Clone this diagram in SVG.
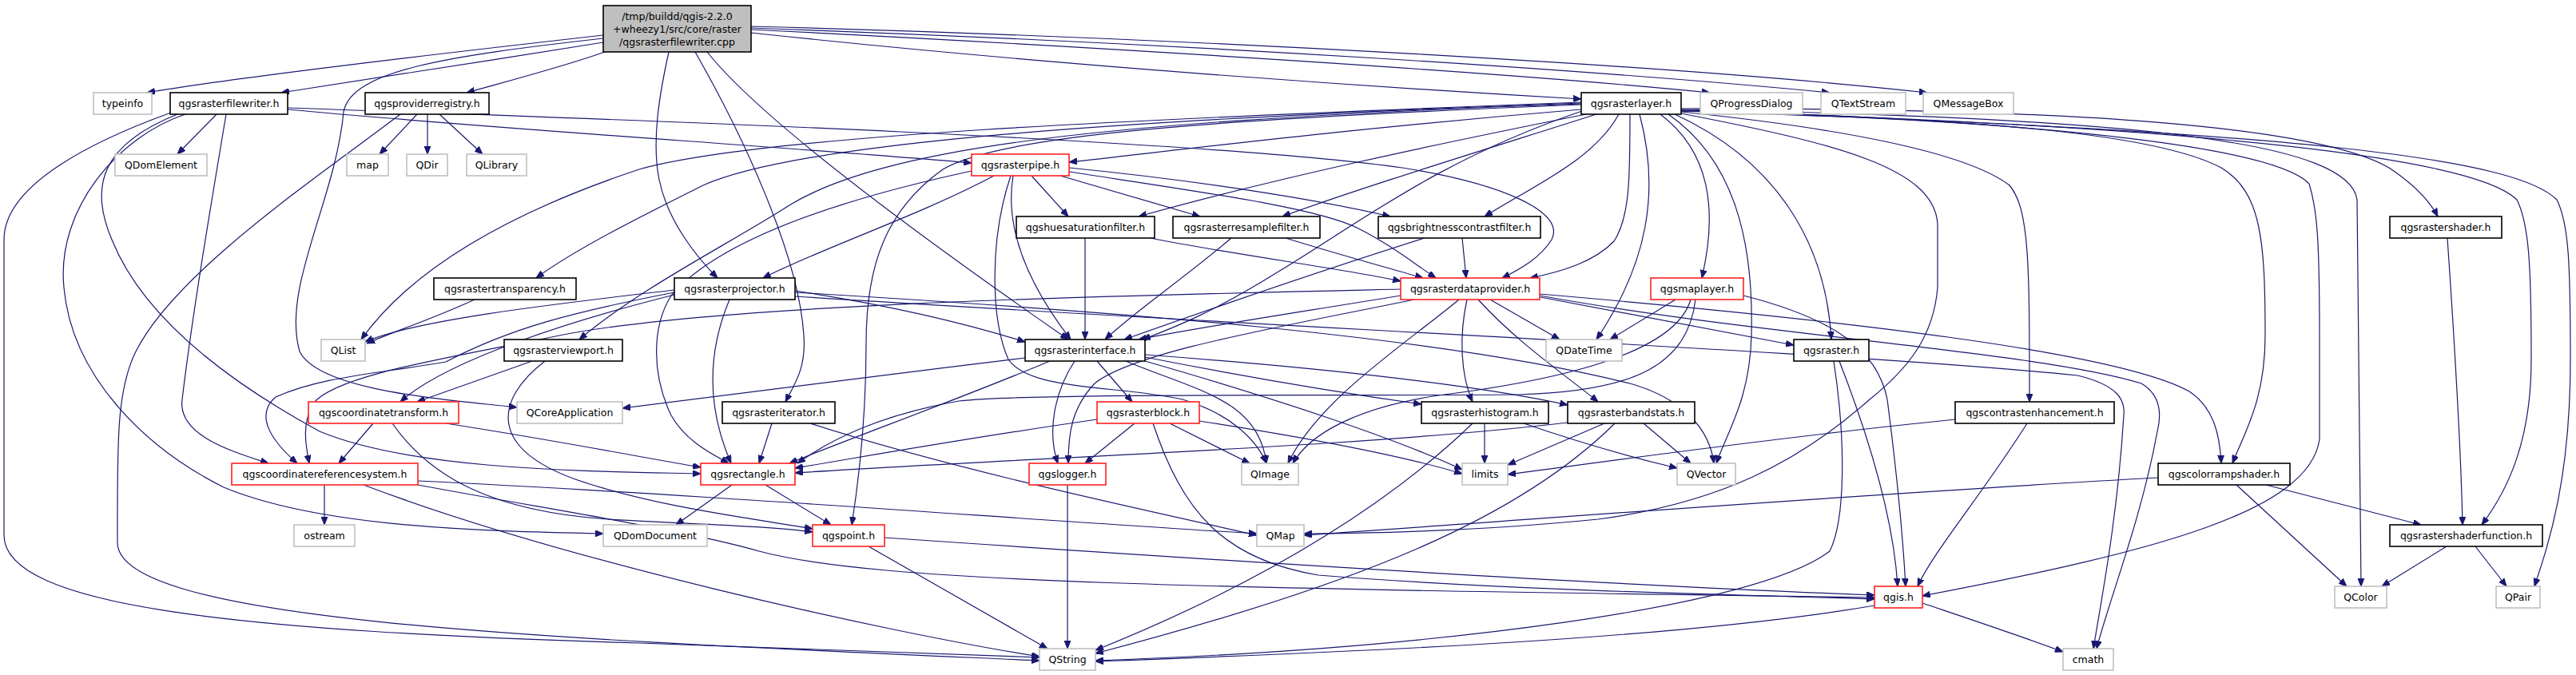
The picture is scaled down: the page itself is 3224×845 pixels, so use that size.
<svg xmlns="http://www.w3.org/2000/svg" width="3224" height="845" viewBox="0 0 3224 845">
<style>
.node rect{fill:#fff;stroke:#000;stroke-width:1.6}
.gray rect{stroke:#c0c0c0}
.red rect{stroke:#ff2020}
.root rect{fill:#bfbfbf}
text{font-family:"DejaVu Sans","Liberation Sans",sans-serif;font-size:12.5px;text-anchor:middle;fill:#000}
.edges path{fill:none;stroke:#191970;stroke-width:1.2;marker-end:url(#a)}
</style>
<defs>
<marker id="a" viewBox="0 0 10 8" refX="10" refY="4" markerWidth="10" markerHeight="8" markerUnits="userSpaceOnUse" orient="auto">
<path d="M0,0 L10,4 L0,8 z" fill="#191970" stroke="#191970" stroke-width="1"/>
</marker>
</defs>
<rect width="3224" height="845" fill="#fff"/>
<g class="edges">
<path d="M755,44 C560,66 300,96 184,116"/>
<path d="M755,53 C620,75 450,100 352,116"/>
<path d="M757,65 C700,85 630,103 584,116"/>
<path d="M755,48 C560,70 440,88 430,140 C420,250 352,360 375,440 C400,490 560,500 647,510"/>
<path d="M837,65 C826,115 815,175 825,225 C835,275 870,320 898,348"/>
<path d="M870,65 C930,170 1000,320 1006,420 C1009,460 995,480 983,503"/>
<path d="M885,65 C960,160 1200,330 1337,425"/>
<path d="M940,41 C1300,80 1700,108 1979,124"/>
<path d="M940,37 C1400,60 1900,92 2140,116"/>
<path d="M940,35 C1500,55 2000,88 2290,116"/>
<path d="M940,33 C1500,48 2100,82 2412,116"/>
<path d="M271,143 L222,193"/>
<path d="M360,137 C600,160 1000,185 1216,204"/>
<path d="M360,135 C800,150 1500,175 1755,210 C1880,230 1960,265 1942,300 C1928,322 1905,336 1880,348"/>
<path d="M214,141 C120,175 5,230 5,300 L5,670 C5,760 300,790 800,805 C1000,812 1200,818 1301,823"/>
<path d="M232,143 C150,170 70,260 80,360 C90,470 180,560 280,610 C400,660 600,665 755,668"/>
<path d="M283,143 C260,280 240,400 228,500 C222,545 290,565 336,580"/>
<path d="M222,143 C130,180 110,230 140,300 C180,400 290,480 400,540 C520,590 750,590 877,593"/>
<path d="M522,143 L475,193"/>
<path d="M535,143 L535,193"/>
<path d="M550,143 L604,193"/>
<path d="M501,143 C400,220 220,340 170,440 C145,490 147,560 147,680 C150,780 700,800 1301,827"/>
<path d="M1979,137 C1700,160 1500,185 1338,203"/>
<path d="M1985,143 C1800,180 1600,222 1425,271"/>
<path d="M1998,143 C1850,190 1700,236 1605,271"/>
<path d="M2026,143 C1995,200 1920,232 1858,271"/>
<path d="M2040,143 C2040,220 2040,272 2020,302 C1995,328 1955,340 1915,348"/>
<path d="M2052,143 C2078,240 2062,330 1998,425"/>
<path d="M2078,143 C2140,190 2150,262 2130,348"/>
<path d="M2088,143 C2170,200 2195,300 2192,420 C2190,500 2162,540 2148,580"/>
<path d="M2096,143 C2220,200 2285,300 2292,425"/>
<path d="M2104,140 C2300,160 2460,190 2515,232 C2540,262 2540,330 2540,503"/>
<path d="M2104,142 C2300,180 2420,210 2425,280 L2425,360 C2420,420 2390,460 2340,500 C2250,580 2150,630 2000,650 C1850,665 1700,668 1632,668"/>
<path d="M2104,138 C2500,150 2700,168 2780,210 C2830,240 2835,300 2835,420 C2835,500 2810,540 2794,580"/>
<path d="M2104,139 C2600,152 2850,188 2890,230 C2900,262 2903,300 2903,420 L2903,550 C2890,640 2700,690 2406,746"/>
<path d="M2104,137 C2700,148 2940,180 2950,250 L2955,734"/>
<path d="M2104,136 C2600,135 2900,158 2990,210 C3020,230 3040,250 3051,271"/>
<path d="M2104,138 C2800,160 3100,200 3150,250 C3165,280 3168,330 3168,450 C3168,550 3140,612 3106,657"/>
<path d="M2104,139 C2900,165 3150,200 3200,250 C3215,280 3217,330 3217,450 C3217,600 3190,680 3172,734"/>
<path d="M1980,139 C1800,200 1700,280 1600,340 C1520,390 1470,410 1430,425"/>
<path d="M1979,128 C1400,150 950,170 800,212 C650,262 520,330 452,425"/>
<path d="M1979,129 C1400,150 1000,178 880,232 C800,272 720,312 671,348"/>
<path d="M1979,130 C1400,150 1100,182 980,262 C900,312 800,362 725,425"/>
<path d="M1979,131 C1500,150 1250,170 1180,212 C1110,262 1084,330 1084,430 C1084,520 1075,600 1066,657"/>
<path d="M1216,214 C1050,250 900,300 840,370 C815,410 816,470 840,520 C860,555 895,570 912,580"/>
<path d="M1291,220 L1337,271"/>
<path d="M1327,220 L1502,271"/>
<path d="M1338,210 C1500,226 1650,250 1740,271"/>
<path d="M1338,215 C1500,240 1650,260 1700,286 C1740,306 1770,330 1797,348"/>
<path d="M1244,220 C1150,270 1030,310 955,348"/>
<path d="M1268,220 C1256,290 1290,360 1340,425"/>
<path d="M1265,220 C1238,300 1240,400 1262,450 C1290,490 1400,482 1480,500 C1540,518 1572,550 1585,580"/>
<path d="M913,375 C890,430 880,500 915,580"/>
<path d="M844,363 C700,380 520,400 457,428"/>
<path d="M844,366 C720,390 640,410 558,453 C470,468 400,472 345,497 C318,520 340,552 372,580"/>
<path d="M844,369 C720,400 560,450 501,503"/>
<path d="M995,366 C1400,390 1800,420 2040,480 C2110,500 2140,540 2145,580"/>
<path d="M995,364 C1100,380 1200,402 1283,428"/>
<path d="M995,371 C1600,410 2300,440 2600,470 C2650,482 2660,500 2658,520 C2650,650 2630,750 2620,812"/>
<path d="M594,375 C540,400 490,416 459,430"/>
<path d="M666,452 L522,503"/>
<path d="M682,452 C620,500 610,560 720,600 C820,635 950,650 1017,662"/>
<path d="M467,530 L424,580"/>
<path d="M558,530 C700,552 800,572 877,585"/>
<path d="M491,530 C540,600 620,640 760,650 C860,656 960,658 1017,666"/>
<path d="M406,607 L406,657"/>
<path d="M523,602 C900,620 1300,652 1573,668"/>
<path d="M523,607 C700,640 850,662 950,690 C1100,730 1500,736 2346,748"/>
<path d="M455,607 C700,700 1100,790 1301,822"/>
<path d="M966,530 L950,580"/>
<path d="M1014,530 C1200,590 1450,642 1573,670"/>
<path d="M1283,448 C1100,470 900,496 779,511"/>
<path d="M1314,452 C1200,500 1060,550 988,580"/>
<path d="M1345,452 C1320,490 1310,540 1324,580"/>
<path d="M1373,452 L1417,503"/>
<path d="M1409,452 C1500,490 1575,500 1585,580"/>
<path d="M1433,452 C1600,500 1750,550 1830,588"/>
<path d="M1433,447 C1550,470 1680,492 1779,506"/>
<path d="M1433,444 C1650,460 1850,482 1962,507"/>
<path d="M1373,525 C1200,550 1080,572 995,586"/>
<path d="M1420,530 L1358,580"/>
<path d="M1464,530 L1564,580"/>
<path d="M1501,527 C1650,550 1760,572 1830,593"/>
<path d="M1443,530 C1480,640 1530,700 1650,720 C1900,740 2200,745 2346,750"/>
<path d="M916,607 L846,657"/>
<path d="M958,607 L1040,657"/>
<path d="M1336,607 L1336,812"/>
<path d="M1087,684 L1311,812"/>
<path d="M1107,673 C1500,700 2000,732 2346,745"/>
<path d="M1858,530 L1858,580"/>
<path d="M1907,530 C1980,555 2040,572 2099,586"/>
<path d="M1843,530 C1750,620 1600,722 1371,814"/>
<path d="M2008,530 L1887,582"/>
<path d="M2057,530 L2116,580"/>
<path d="M2021,530 C1900,650 1700,732 1371,818"/>
<path d="M1962,529 C1700,560 1300,572 995,592"/>
<path d="M2302,452 C2340,550 2370,650 2375,734"/>
<path d="M2295,452 C2310,550 2310,650 2290,690 C2200,760 1800,812 1371,827"/>
<path d="M2097,375 L2015,425"/>
<path d="M2116,375 C2100,430 2000,470 1800,495 C1700,510 1640,542 1618,580"/>
<path d="M2122,375 C2112,455 2050,490 1900,494 C1600,496 1300,492 1200,502 C1100,520 1040,550 998,580"/>
<path d="M2182,370 C2300,400 2350,440 2362,500 C2375,600 2382,680 2385,734"/>
<path d="M1753,370 C1600,395 1500,410 1425,425"/>
<path d="M1753,362 C1400,370 900,380 700,420 C550,450 420,470 392,505 C378,530 382,555 387,580"/>
<path d="M1865,375 L1952,425"/>
<path d="M1836,375 C1826,420 1828,470 1843,503"/>
<path d="M1850,375 C1900,430 1960,470 2000,503"/>
<path d="M1928,372 C2050,395 2150,415 2245,432"/>
<path d="M1826,375 C1760,430 1650,500 1612,580"/>
<path d="M1770,375 C1600,410 1420,440 1370,480 C1342,510 1337,540 1337,580"/>
<path d="M1927,368 C2300,400 2650,440 2740,490 C2770,510 2778,542 2780,580"/>
<path d="M1927,370 C2200,420 2550,440 2680,480 C2705,495 2705,520 2700,540 C2680,650 2640,750 2624,812"/>
<path d="M1358,298 L1358,425"/>
<path d="M1440,298 C1550,320 1680,336 1753,352"/>
<path d="M1541,298 C1480,350 1420,390 1383,425"/>
<path d="M1609,298 C1680,320 1740,336 1781,348"/>
<path d="M1830,298 L1835,348"/>
<path d="M1783,298 C1650,340 1500,392 1407,425"/>
<path d="M3063,298 C3070,400 3080,560 3082,657"/>
<path d="M2447,525 C2200,550 1950,586 1887,594"/>
<path d="M2537,530 C2480,620 2420,690 2400,734"/>
<path d="M2701,598 C2300,620 1900,652 1632,670"/>
<path d="M2799,607 L2937,734"/>
<path d="M2836,607 L3030,657"/>
<path d="M3062,684 L2981,734"/>
<path d="M3098,684 L3137,734"/>
<path d="M2346,758 C2100,800 1700,816 1371,828"/>
<path d="M2406,755 C2480,780 2540,800 2582,816"/>
</g>
<g id="n_root" class="node root"><rect x="755" y="7" width="185" height="58"/><text x="847.5" y="24.5">/tmp/buildd/qgis-2.2.0</text><text x="847.5" y="40.5">+wheezy1/src/core/raster</text><text x="847.5" y="56.5">/qgsrasterfilewriter.cpp</text></g>
<g id="n_typeinfo" class="node gray"><rect x="117" y="116" width="73" height="27"/><text x="153.5" y="134">typeinfo</text></g>
<g id="n_qgsrasterfilewriter" class="node"><rect x="213" y="116" width="147" height="27"/><text x="286.5" y="134">qgsrasterfilewriter.h</text></g>
<g id="n_qgsproviderregistry" class="node"><rect x="457" y="116" width="155" height="27"/><text x="534.5" y="134">qgsproviderregistry.h</text></g>
<g id="n_qgsrasterlayer" class="node"><rect x="1979" y="116" width="125" height="27"/><text x="2041.5" y="134">qgsrasterlayer.h</text></g>
<g id="n_QProgressDialog" class="node gray"><rect x="2128" y="116" width="128" height="27"/><text x="2192" y="134">QProgressDialog</text></g>
<g id="n_QTextStream" class="node gray"><rect x="2279" y="116" width="106" height="27"/><text x="2332" y="134">QTextStream</text></g>
<g id="n_QMessageBox" class="node gray"><rect x="2407" y="116" width="113" height="27"/><text x="2463.5" y="134">QMessageBox</text></g>
<g id="n_QDomElement" class="node gray"><rect x="144" y="193" width="115" height="27"/><text x="201.5" y="211">QDomElement</text></g>
<g id="n_map" class="node gray"><rect x="434" y="193" width="52" height="27"/><text x="460" y="211">map</text></g>
<g id="n_QDir" class="node gray"><rect x="509" y="193" width="51" height="27"/><text x="534.5" y="211">QDir</text></g>
<g id="n_QLibrary" class="node gray"><rect x="584" y="193" width="75" height="27"/><text x="621.5" y="211">QLibrary</text></g>
<g id="n_qgsrasterpipe" class="node red"><rect x="1216" y="193" width="122" height="27"/><text x="1277" y="211">qgsrasterpipe.h</text></g>
<g id="n_qgshuesaturationfilter" class="node"><rect x="1272" y="271" width="173" height="27"/><text x="1358.5" y="289">qgshuesaturationfilter.h</text></g>
<g id="n_qgsrasterresamplefilter" class="node"><rect x="1468" y="271" width="184" height="27"/><text x="1560" y="289">qgsrasterresamplefilter.h</text></g>
<g id="n_qgsbrightnesscontrastfilter" class="node"><rect x="1725" y="271" width="203" height="27"/><text x="1826.5" y="289">qgsbrightnesscontrastfilter.h</text></g>
<g id="n_qgsrastershader" class="node"><rect x="2991" y="271" width="140" height="27"/><text x="3061" y="289">qgsrastershader.h</text></g>
<g id="n_qgsrastertransparency" class="node"><rect x="543" y="348" width="178" height="27"/><text x="632" y="366">qgsrastertransparency.h</text></g>
<g id="n_qgsrasterprojector" class="node"><rect x="844" y="348" width="151" height="27"/><text x="919.5" y="366">qgsrasterprojector.h</text></g>
<g id="n_qgsrasterdataprovider" class="node red"><rect x="1753" y="348" width="174" height="27"/><text x="1840" y="366">qgsrasterdataprovider.h</text></g>
<g id="n_qgsmaplayer" class="node red"><rect x="2066" y="348" width="116" height="27"/><text x="2124" y="366">qgsmaplayer.h</text></g>
<g id="n_QList" class="node gray"><rect x="402" y="425" width="55" height="27"/><text x="429.5" y="443">QList</text></g>
<g id="n_qgsrasterviewport" class="node"><rect x="631" y="425" width="148" height="27"/><text x="705" y="443">qgsrasterviewport.h</text></g>
<g id="n_qgsrasterinterface" class="node"><rect x="1283" y="425" width="150" height="27"/><text x="1358" y="443">qgsrasterinterface.h</text></g>
<g id="n_QDateTime" class="node gray"><rect x="1935" y="425" width="95" height="27"/><text x="1982.5" y="443">QDateTime</text></g>
<g id="n_qgsraster" class="node"><rect x="2245" y="425" width="94" height="27"/><text x="2292" y="443">qgsraster.h</text></g>
<g id="n_qgscoordinatetransform" class="node red"><rect x="386" y="503" width="188" height="27"/><text x="480" y="521">qgscoordinatetransform.h</text></g>
<g id="n_QCoreApplication" class="node gray"><rect x="647" y="503" width="132" height="27"/><text x="713" y="521">QCoreApplication</text></g>
<g id="n_qgsrasteriterator" class="node"><rect x="904" y="503" width="141" height="27"/><text x="974.5" y="521">qgsrasteriterator.h</text></g>
<g id="n_qgsrasterblock" class="node red"><rect x="1373" y="503" width="128" height="27"/><text x="1437" y="521">qgsrasterblock.h</text></g>
<g id="n_qgsrasterhistogram" class="node"><rect x="1779" y="503" width="159" height="27"/><text x="1858.5" y="521">qgsrasterhistogram.h</text></g>
<g id="n_qgsrasterbandstats" class="node"><rect x="1962" y="503" width="159" height="27"/><text x="2041.5" y="521">qgsrasterbandstats.h</text></g>
<g id="n_qgscontrastenhancement" class="node"><rect x="2447" y="503" width="199" height="27"/><text x="2546.5" y="521">qgscontrastenhancement.h</text></g>
<g id="n_qgscoordinatereferencesystem" class="node red"><rect x="290" y="580" width="233" height="27"/><text x="406.5" y="598">qgscoordinatereferencesystem.h</text></g>
<g id="n_qgsrectangle" class="node red"><rect x="877" y="580" width="118" height="27"/><text x="936" y="598">qgsrectangle.h</text></g>
<g id="n_qgslogger" class="node red"><rect x="1288" y="580" width="96" height="27"/><text x="1336" y="598">qgslogger.h</text></g>
<g id="n_QImage" class="node gray"><rect x="1554" y="580" width="71" height="27"/><text x="1589.5" y="598">QImage</text></g>
<g id="n_limits" class="node gray"><rect x="1830" y="580" width="57" height="27"/><text x="1858.5" y="598">limits</text></g>
<g id="n_QVector" class="node gray"><rect x="2099" y="580" width="73" height="27"/><text x="2135.5" y="598">QVector</text></g>
<g id="n_qgscolorrampshader" class="node"><rect x="2701" y="580" width="165" height="27"/><text x="2783.5" y="598">qgscolorrampshader.h</text></g>
<g id="n_ostream" class="node gray"><rect x="368" y="657" width="76" height="27"/><text x="406" y="675">ostream</text></g>
<g id="n_QDomDocument" class="node gray"><rect x="755" y="657" width="130" height="27"/><text x="820" y="675">QDomDocument</text></g>
<g id="n_qgspoint" class="node red"><rect x="1017" y="657" width="90" height="27"/><text x="1062" y="675">qgspoint.h</text></g>
<g id="n_QMap" class="node gray"><rect x="1573" y="657" width="59" height="27"/><text x="1602.5" y="675">QMap</text></g>
<g id="n_qgsrastershaderfunction" class="node"><rect x="2991" y="657" width="191" height="27"/><text x="3086.5" y="675">qgsrastershaderfunction.h</text></g>
<g id="n_qgis" class="node red"><rect x="2346" y="734" width="60" height="27"/><text x="2376" y="752">qgis.h</text></g>
<g id="n_QColor" class="node gray"><rect x="2922" y="734" width="65" height="27"/><text x="2954.5" y="752">QColor</text></g>
<g id="n_QPair" class="node gray"><rect x="3124" y="734" width="55" height="27"/><text x="3151.5" y="752">QPair</text></g>
<g id="n_QString" class="node gray"><rect x="1301" y="812" width="70" height="27"/><text x="1336" y="830">QString</text></g>
<g id="n_cmath" class="node gray"><rect x="2582" y="812" width="63" height="27"/><text x="2613.5" y="830">cmath</text></g>
</svg>
